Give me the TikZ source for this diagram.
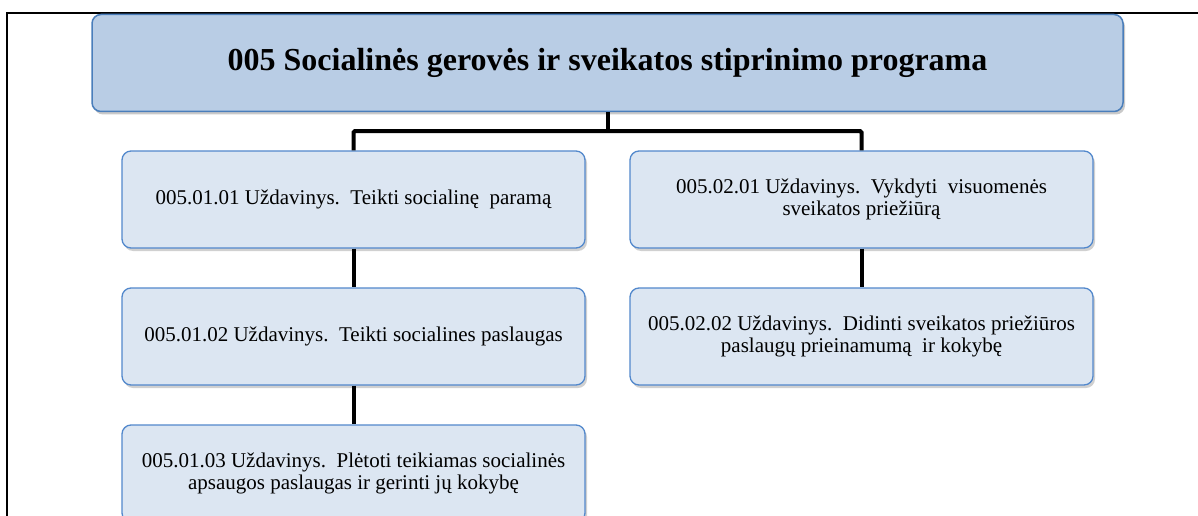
\documentclass[tikz,border=0pt]{standalone}
\usepackage{fontspec}
\setmainfont{Liberation Serif}
\usetikzlibrary{shadows}
\definecolor{topfill}{HTML}{B9CDE5}
\definecolor{topline}{HTML}{4A7EBB}
\definecolor{boxfill}{HTML}{DCE6F2}
\definecolor{boxline}{HTML}{5288CC}
\newcommand{\gapp}{\hskip 0.5em\relax}
\tikzset{
  frameline/.style={line width=2pt, black},
  topbox/.style={rectangle, rounded corners=9pt, draw=topline, line width=1.5pt, fill=topfill,
    minimum width=1031pt, minimum height=97pt, inner sep=0pt,
    drop shadow={shadow xshift=2pt, shadow yshift=-3pt, opacity=0.35, fill=black!60},
    font=\fontsize{32}{36}\selectfont\bfseries},
  taskbox/.style={rectangle, rounded corners=9pt, draw=boxline, line width=1.3pt, fill=boxfill,
    minimum width=463pt, minimum height=97pt, inner sep=0pt, align=center,
    drop shadow={shadow xshift=2pt, shadow yshift=-3pt, opacity=0.3, fill=black!60},
    font=\fontsize{21}{22}\selectfont},
  conn/.style={line width=4pt, black, rounded corners=1.5pt}
}
\begin{document}
\begin{tikzpicture}[x=1pt, y=-1pt]
\useasboundingbox (0,0) rectangle (1198,516);
\fill[white] (0,0) rectangle (1198,516);
\draw[frameline] (6.5,520) -- (6.5,13.5) -- (1202,13.5);

\node[topbox] (top) at (607.5,63) {005 Socialinės gerovės ir sveikatos stiprinimo programa};

\node[taskbox] (a1) at (353.5,199.5) {005.01.01 Uždavinys.\gapp Teikti socialinę \ paramą};
\node[taskbox] (a2) at (353.5,336.5) {005.01.02 Uždavinys.\gapp Teikti socialines paslaugas};
\node[taskbox] (a3) at (353.5,473.5) {005.01.03 Uždavinys.\gapp Plėtoti teikiamas socialinės\\apsaugos paslaugas ir gerinti jų kokybę};

\node[taskbox] (b1) at (861.5,199.5) {005.02.01 Uždavinys.\gapp Vykdyti \ visuomenės\\sveikatos priežiūrą};
\node[taskbox] (b2) at (861.5,336.5) {005.02.02 Uždavinys.\gapp Didinti sveikatos priežiūros\\paslaugų prieinamumą \ ir kokybę};

\coordinate (j) at (608,131);
\draw[conn] (top.south -| j) -- (j);
\draw[conn] (a1.north) |- (j) -| (b1.north);
\draw[conn] (a1.south) -- (a2.north);
\draw[conn] (a2.south) -- (a3.north);
\draw[conn] (b1.south) -- (b2.north);
\end{tikzpicture}
\end{document}
